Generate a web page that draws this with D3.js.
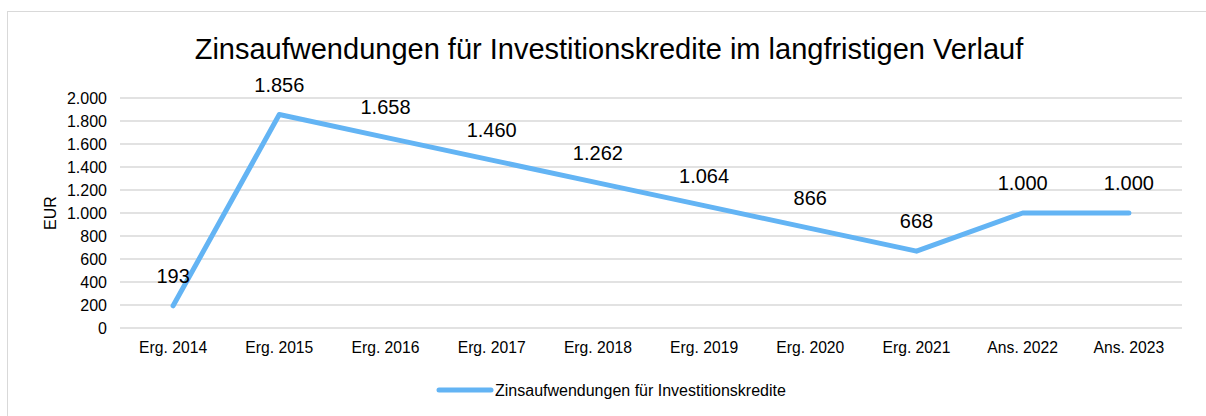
<!DOCTYPE html>
<html><head><meta charset="utf-8">
<script src="https://cdn.jsdelivr.net/npm/d3@7"></script>
<style>
html,body{margin:0;padding:0;background:#fff;}
svg{display:block;font-family:"Liberation Sans",Arial,sans-serif;}
</style></head>
<body>
<svg id="chart" width="1206" height="416"></svg>
<script>
const categories = ["Erg. 2014","Erg. 2015","Erg. 2016","Erg. 2017","Erg. 2018","Erg. 2019","Erg. 2020","Erg. 2021","Ans. 2022","Ans. 2023"];
const values = [193,1856,1658,1460,1262,1064,866,668,1000,1000];
const yTicks = [0,200,400,600,800,1000,1200,1400,1600,1800,2000];
const title = "Zinsaufwendungen für Investitionskredite im langfristigen Verlauf";
const seriesName = "Zinsaufwendungen für Investitionskredite";
const yAxisTitle = "EUR";

const fmt = v => d3.format(",")(v).replace(/,/g, ".");
const svg = d3.select("#chart");
const m = {left:120, right:1182, top:98, bottom:328};
const lineColor = "#63b4f4";
const FF = "Liberation Sans, Arial, sans-serif";

// outer border
svg.append("rect").attr("x",7.5).attr("y",11.5).attr("width",1220).attr("height",420)
  .attr("fill","#fff").attr("stroke","#d9d9d9").attr("stroke-width",1);

const x = d3.scaleBand().domain(categories).range([m.left,m.right]);
const y = d3.scaleLinear().domain([0,2000]).range([m.bottom,m.top]);

// gridlines
svg.append("g").selectAll("line").data(yTicks).join("line")
  .attr("x1",m.left).attr("x2",m.right)
  .attr("y1",d=>y(d)).attr("y2",d=>y(d))
  .attr("stroke","#d9d9d9").attr("stroke-width",1.5);

// y axis
const yAxis = d3.axisLeft(y).tickValues(yTicks).tickFormat(fmt).tickSize(0).tickPadding(13);
const ya = svg.append("g").attr("transform",`translate(${m.left},0)`).call(yAxis);
ya.select(".domain").remove();
ya.selectAll("text").attr("font-size",16).attr("fill","#000").attr("font-family",FF);

// x axis
const xAxis = d3.axisBottom(x).tickSize(0).tickPadding(14);
const xa = svg.append("g").attr("transform",`translate(0,${m.bottom})`).call(xAxis);
xa.select(".domain").remove();
xa.selectAll("text").attr("font-size",15.7).attr("fill","#000").attr("font-family",FF);

// y title
svg.append("text").attr("transform",`translate(56,${(m.top+m.bottom)/2}) rotate(-90)`)
  .attr("text-anchor","middle").attr("font-size",16).attr("fill","#000").text(yAxisTitle);

// title
svg.append("text").attr("x",609).attr("y",59).attr("text-anchor","middle")
  .attr("font-size",29).attr("fill","#000").text(title);

// line
const cx = d => x(d) + x.bandwidth()/2;
const line = d3.line().x((d,i)=>cx(categories[i])).y(d=>y(d));
svg.append("path").datum(values).attr("d",line).attr("fill","none")
  .attr("stroke",lineColor).attr("stroke-width",5).attr("stroke-linecap","round").attr("stroke-linejoin","round");

// labels
svg.append("g").selectAll("text").data(values).join("text")
  .attr("x",(d,i)=>cx(categories[i])).attr("y",d=>y(d)-23)
  .attr("text-anchor","middle").attr("font-size",20).attr("fill","#000")
  .text(d=>fmt(d));

// legend
svg.append("line").attr("x1",439).attr("x2",491).attr("y1",390).attr("y2",390)
  .attr("stroke",lineColor).attr("stroke-width",5).attr("stroke-linecap","round");
svg.append("text").attr("x",495).attr("y",396).attr("font-size",16).attr("fill","#000").text(seriesName);
</script>
</body></html>
